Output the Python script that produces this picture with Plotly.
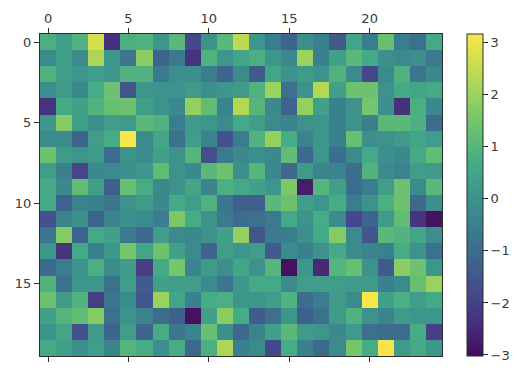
import plotly.graph_objects as go

row_00 = [.8,.3,.9,2.7,-2.4,.8,.9,.1,1.1,-1.8,0,1.1,2.4,.1,-.6,-1.2,-.1,-.5,-1.4,.5,-.6,1.3,-.6,-.9,.6]
row_01 = [-.2,.4,-.2,2.2,.1,-.8,1.8,-1.2,-.7,-2.3,.9,.1,.5,.8,.1,-.3,2.0,-.5,.4,1.1,.6,-.1,-.2,-.1,-.7]
row_02 = [.9,.3,.1,.3,.1,.9,.9,-.7,-.1,-.1,-.6,-1.2,-.2,-1.4,.5,0,.2,0,.9,-.2,-1.8,-.2,.9,-.8,-.3]
row_03 = [-.1,.2,-.3,.7,1.4,-1.5,.1,0,0,.2,-.1,.1,.2,.9,2.0,-.9,0,2.3,.4,1.4,1.4,0,.6,.5,.6]
row_04 = [-2.3,.6,.4,.9,1.3,1.4,.3,0,-.3,1.9,1.2,-.4,2.3,1.0,-.3,-1.2,1.9,.4,-.5,0,1.5,-.1,-2.4,.8,-.3]
row_05 = [.1,1.7,.3,-.1,.3,.2,1.1,.9,-.6,.2,.1,-.2,.6,.3,-.2,-.4,0,.1,-.5,0,-.5,1.1,1.1,.8,-1.0]
row_06 = [-.2,-.2,-1.2,.3,.7,3.15,-.2,.5,-.9,.3,-.4,-1.6,-.6,.9,1.9,.7,-.4,.1,-.5,1.3,-.1,0,.2,.5,.3]
row_07 = [1.4,.2,.1,.2,-1.0,0,-.2,.4,0,1.0,-1.7,-.7,-.3,-.1,-.3,1.2,-1.1,.1,-1.0,-.2,.6,-.1,-.3,.6,1.2]
row_08 = [.3,-.5,-1.9,-.3,-.2,-.1,.1,1.2,0,-.3,1.1,1.4,-.1,1.0,-.3,-1.1,.2,-.4,-.4,-1.0,.9,-.2,-.4,.3,.2]
row_09 = [.6,-.3,1.2,.4,-1.3,1.3,.7,-.3,0,.5,-.4,.8,.6,.4,.1,1.6,-2.7,1.0,.4,-1.0,-.6,.3,1.4,-.2,1.1]
row_10 = [.6,-1.2,-.4,-.5,-.8,0,.2,-.3,.6,.3,.9,-.8,-1.3,-1.3,1.1,1.4,.3,.1,.7,-.6,0,.8,1.4,-1.1,-.1]
row_11 = [-1.6,-.4,-.1,-1.2,-.4,-.1,-.2,-.6,1.6,.7,0,-.7,-1.0,-.9,-.7,.6,0,.7,-.2,-1.8,-1.2,.2,1.2,-2.3,-2.9]
row_12 = [-.8,1.7,-1.2,.6,.4,-.7,-1.1,.3,-.2,-.3,0,.4,1.9,-1.5,-.7,-.6,-.1,.6,1.7,-.2,-1.5,1.1,.9,.5,-.1]
row_13 = [.1,-2.3,.6,-.5,.1,1.5,.5,1.4,.4,-.2,-1.2,.3,.1,.3,-1.4,-.2,-.5,0,.6,-.2,-.4,-.5,.7,0,-.9]
row_14 = [-1.1,-.6,0,.8,-.2,.2,-2.1,.6,1.5,-.4,.2,-.1,.5,0,1.0,-2.9,.1,-2.5,1.0,1.3,0,-1.4,1.8,1.4,.1]
row_15 = [.9,-.9,.1,.1,-.9,.3,-1.4,.4,.3,.3,-.2,-.8,.1,.6,.6,-.2,.3,.3,.3,.2,.2,-.5,-.2,1.3,2.0]
row_16 = [1.4,.2,.9,-2.1,-.8,-.2,-1.5,2.0,.5,-.5,.7,.8,.1,.1,.3,.9,-1.0,-.6,.2,-.2,3.15,.4,.8,.3,.6]
row_17 = [.4,1.0,1.2,1.7,-.9,0,-.4,-1.0,-1.3,-2.9,.4,1.8,.7,-1.4,-.9,.1,-1.3,-.9,.2,.9,0,-.4,.2,.1,.1]
row_18 = [0,.5,-1.6,.2,-1.2,.3,-1.2,.7,-.8,-.4,1.3,-.1,-1.1,-.4,.4,1.1,.2,.1,-.3,.2,-.9,-1.0,-1.0,.7,-2.0]
row_19 = [.6,.4,-.1,.3,-.4,1.0,.7,-.1,.7,-1.1,.8,2.2,-.5,-.2,-1.8,.7,-.5,-1.1,-.2,1.5,.7,3.1,.2,.6,.1]

grid = [row_00,row_01,row_02,row_03,row_04,row_05,row_06,row_07,row_08,row_09,
        row_10,row_11,row_12,row_13,row_14,row_15,row_16,row_17,row_18,row_19]
x_ticks = [0,5,10,15,20]
y_ticks = [0,5,10,15]
cbar_ticks = [-3,-2,-1,0,1,2,3]
palette = ["#430b5a","#47307c","#454a8b","#3d668d","#3a7f8e","#3d958b","#45ac85","#68bf72","#95d15e","#c8dd4e","#fae74a"]

ink = "#2b2b2b"
font = dict(family="DejaVu Sans", size=13, color="#3a3a3a")
scale = [[i / (len(palette) - 1), c] for i, c in enumerate(palette)]

fig = go.Figure(go.Heatmap(
    z=grid, colorscale=scale, zmin=-3.02, zmax=3.17,
    colorbar=dict(
        thickness=16, thicknessmode="pixels", len=1, lenmode="fraction",
        x=1.0623, xanchor="left", xpad=0, y=0.5, yanchor="middle", ypad=0,
        tickvals=cbar_ticks, ticks="outside", ticklen=5, tickwidth=1, tickcolor=ink,
        tickfont=font, outlinecolor=ink, outlinewidth=1,
    ),
))
fig.update_xaxes(side="top", tickvals=x_ticks, ticks="outside", ticklen=5, tickcolor=ink,
                 showline=True, linecolor=ink, linewidth=1, mirror="ticks", showgrid=False,
                 zeroline=False, tickfont=font, range=[-0.5, 24.5])
fig.update_yaxes(tickvals=y_ticks, ticks="outside", ticklen=5, tickcolor=ink,
                 showline=True, linecolor=ink, linewidth=1, mirror=True, showgrid=False,
                 zeroline=False, tickfont=font, range=[19.5, -0.5])
fig.update_layout(width=526, height=374, autosize=False,
                  margin=dict(l=40, r=84, t=34, b=18),
                  paper_bgcolor="white", plot_bgcolor="white")
fig.write_html("out.html", config={"displayModeBar": False},
               post_script="document.body.style.margin='0';document.documentElement.style.overflow='hidden';")
